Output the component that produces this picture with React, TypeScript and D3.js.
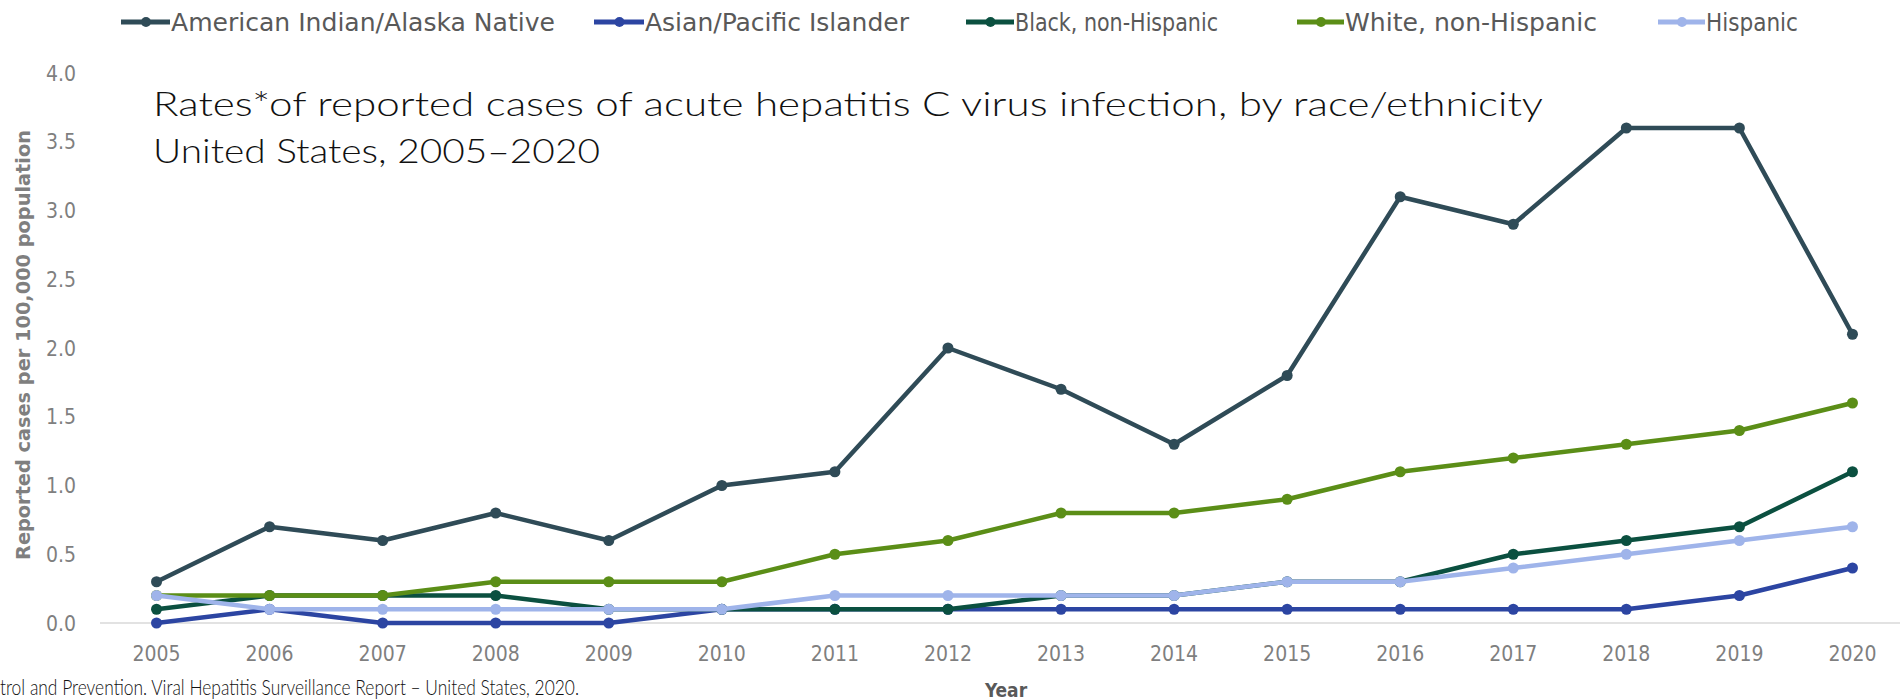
import React from "react";
import * as d3 from "d3";

const years = [2005, 2006, 2007, 2008, 2009, 2010, 2011, 2012, 2013, 2014, 2015, 2016, 2017, 2018, 2019, 2020];
const aian = [0.3, 0.7, 0.6, 0.8, 0.6, 1.0, 1.1, 2.0, 1.7, 1.3, 1.8, 3.1, 2.9, 3.6, 3.6, 2.1];
const asianPI = [0.0, 0.1, 0.0, 0.0, 0.0, 0.1, 0.1, 0.1, 0.1, 0.1, 0.1, 0.1, 0.1, 0.1, 0.2, 0.4];
const black = [0.1, 0.2, 0.2, 0.2, 0.1, 0.1, 0.1, 0.1, 0.2, 0.2, 0.3, 0.3, 0.5, 0.6, 0.7, 1.1];
const white = [0.2, 0.2, 0.2, 0.3, 0.3, 0.3, 0.5, 0.6, 0.8, 0.8, 0.9, 1.1, 1.2, 1.3, 1.4, 1.6];
const hispanic = [0.2, 0.1, 0.1, 0.1, 0.1, 0.1, 0.2, 0.2, 0.2, 0.2, 0.3, 0.3, 0.4, 0.5, 0.6, 0.7];
const seriesNames = ["American Indian/Alaska Native", "Asian/Pacific Islander", "Black, non-Hispanic", "White, non-Hispanic", "Hispanic"];
const seriesColors = ["#2f4b57", "#2c45a2", "#0b5040", "#5b8e17", "#9fb4ea"];
const yTicks = [0, 0.5, 1, 1.5, 2, 2.5, 3, 3.5, 4];

const seriesValues = [aian, asianPI, black, white, hispanic];

// legend layout (positions only)
const legendMarkerX = [121, 594, 966, 1297, 1658];
const legendTextX = [171, 645, 1015, 1345, 1706];
const legendTextW = [384, 264, 203, 252, 92];

export default function App() {
  const W = 1900, H = 700;
  const x = d3.scalePoint<number>().domain(years).range([100, 1909]).padding(0.5);
  const y = d3.scaleLinear().domain([0, 4]).range([623, 73]);
  const line = d3.line<number>()
    .x((_, i) => x(years[i]) as number)
    .y((d) => y(d));
  const tickFont = "'DejaVu Sans Condensed', 'Liberation Sans Narrow', 'DejaVu Sans', sans-serif";
  const titleFont = "'Lato', 'Noto Sans', sans-serif";
  return (
    <svg width={W} height={H} style={{ position: "absolute", left: 0, top: 0, background: "#fff" }}>
      <rect x={0} y={0} width={W} height={H} fill="#fff" />
      {/* baseline */}
      <line x1={100} x2={1900} y1={y(0)} y2={y(0)} stroke="#d9d9d9" strokeWidth={1.5} />
      {/* y ticks */}
      {yTicks.map((t) => (
        <text key={t} x={76} y={y(t)} dy="0.36em" textAnchor="end" fontFamily={tickFont} fontSize={21} fill="#7f7f7f">
          {d3.format(".1f")(t)}
        </text>
      ))}
      {/* x ticks */}
      {years.map((yr) => (
        <text key={yr} x={x(yr)} y={661} textAnchor="middle" fontFamily={tickFont} fontSize={21} fill="#7f7f7f">
          {yr}
        </text>
      ))}
      {/* series */}
      {seriesValues.map((vals, si) => (
        <g key={si}>
          <path d={line(vals) || ""} fill="none" stroke={seriesColors[si]} strokeWidth={4.5} strokeLinejoin="round" />
          {vals.map((v, i) => (
            <circle key={i} cx={x(years[i])} cy={y(v)} r={5.5} fill={seriesColors[si]} />
          ))}
        </g>
      ))}
      {/* legend */}
      {seriesNames.map((n, i) => (
        <g key={n}>
          <line x1={legendMarkerX[i]} x2={legendTextX[i] - 1} y1={22} y2={22} stroke={seriesColors[i]} strokeWidth={5} />
          <circle cx={(legendMarkerX[i] + legendTextX[i]) / 2} cy={22} r={5} fill={seriesColors[i]} />
          <text x={legendTextX[i]} y={22} dy="0.36em" fontFamily={tickFont} fontSize={24} fill="#595959"
            textLength={legendTextW[i]} lengthAdjust="spacingAndGlyphs">{n}</text>
        </g>
      ))}
      {/* title */}
      <text x={153} y={116} fontFamily={titleFont} fontWeight={300} fontSize={34} fill="#111"
        textLength={1390} lengthAdjust="spacingAndGlyphs">
        Rates*of reported cases of acute hepatitis C virus infection, by race/ethnicity
      </text>
      <text x={153} y={163} fontFamily={titleFont} fontWeight={300} fontSize={34} fill="#111"
        textLength={447} lengthAdjust="spacingAndGlyphs">
        United States, 2005–2020
      </text>
      {/* axis titles */}
      <text transform={`translate(30,345) rotate(-90)`} textAnchor="middle" fontFamily={tickFont} fontWeight="bold" fontSize={19} fill="#7f7f7f"
        textLength={430} lengthAdjust="spacingAndGlyphs">
        Reported cases per 100,000 population
      </text>
      <text x={1006} y={697} textAnchor="middle" fontFamily={tickFont} fontWeight="bold" fontSize={19} fill="#595959">
        Year
      </text>
      {/* footer */}
      <text x={0} y={695} fontFamily={titleFont} fontWeight={300} fontSize={21} fill="#111"
        textLength={579} lengthAdjust="spacingAndGlyphs">
        trol and Prevention. Viral Hepatitis Surveillance Report – United States, 2020.
      </text>
    </svg>
  );
}
